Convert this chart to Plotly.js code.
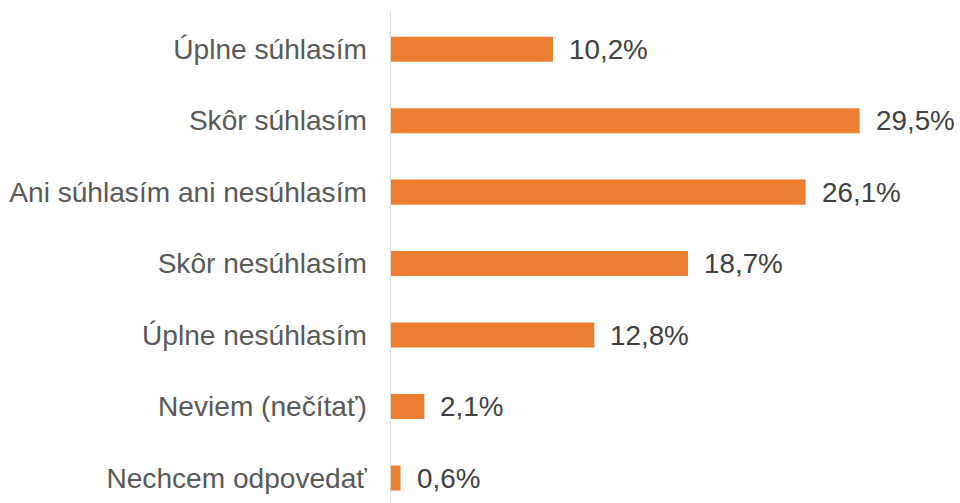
<!DOCTYPE html>
<html>
<head>
<meta charset="utf-8">
<script src="https://cdn.plot.ly/plotly-3.0.1.min.js"></script>
<style>html,body{margin:0;padding:0;background:#fff;}#chart{width:960px;height:503px;}</style>
</head>
<body>
<div id="chart"></div>
<script>
const categories = ["Úplne súhlasím", "Skôr súhlasím", "Ani súhlasím ani nesúhlasím", "Skôr nesúhlasím", "Úplne nesúhlasím", "Neviem (nečítať)", "Nechcem odpovedať"];
const values = [10.2, 29.5, 26.1, 18.7, 12.8, 2.1, 0.6];
const valueLabels = ["10,2%", "29,5%", "26,1%", "18,7%", "12,8%", "2,1%", "0,6%"];

const trace = {
  type: 'bar',
  orientation: 'h',
  x: values,
  y: categories,
  marker: {color: '#ED7D31'},
  hoverinfo: 'none'
};

const annotations = categories.map((c, i) => ({
  x: values[i], y: c, xref: 'x', yref: 'y',
  text: valueLabels[i], showarrow: false,
  xanchor: 'left', yanchor: 'middle', xshift: 14,
  font: {family: 'Liberation Sans, Arial, sans-serif', size: 27.8, color: '#404040'}
}));

const layout = {
  width: 960, height: 503,
  margin: {l: 391, r: 13, t: 12, b: 0, pad: 0},
  paper_bgcolor: '#fff', plot_bgcolor: '#fff',
  showlegend: false,
  bargap: 0.65,
  xaxis: {range: [0, 35], showgrid: false, zeroline: false, showline: false, showticklabels: false, ticks: ''},
  yaxis: {
    type: 'category',
    range: [6.349, -0.52],
    showgrid: false, zeroline: false,
    showline: true, linecolor: '#d9d9d9', linewidth: 1.5,
    ticks: '', ticklabelstandoff: 17,
    tickfont: {family: 'Liberation Sans, Arial, sans-serif', size: 28.1, color: '#595959'}
  },
  annotations: annotations
};

Plotly.newPlot('chart', [trace], layout, {staticPlot: true, displayModeBar: false});
</script>
</body>
</html>
